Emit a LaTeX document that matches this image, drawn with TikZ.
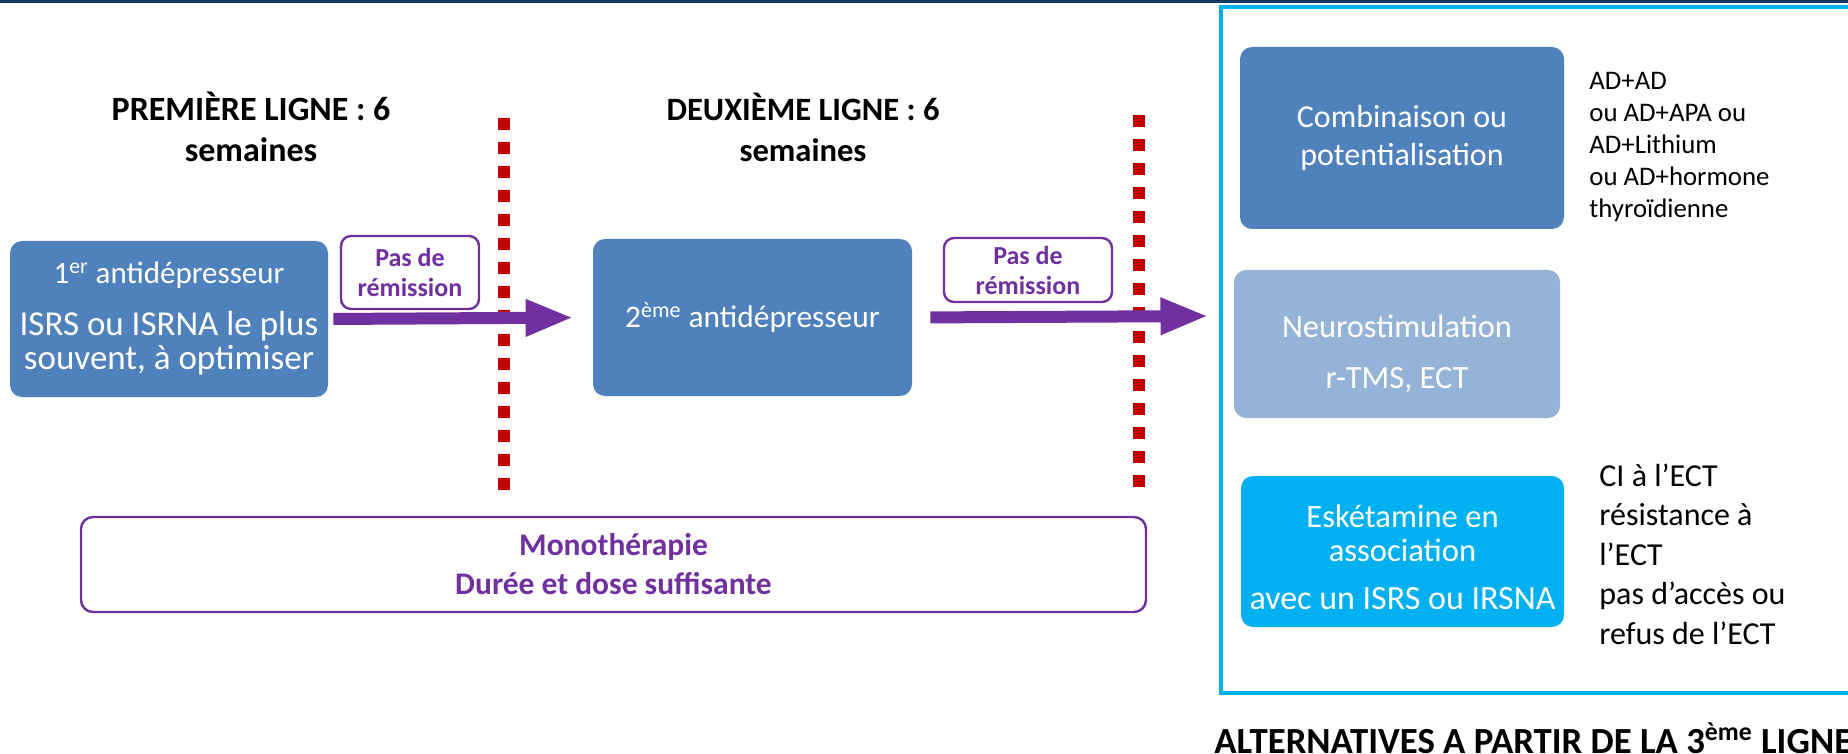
\documentclass[tikz,border=0pt]{standalone}
\usepackage{fontspec}
\setmainfont{Carlito}
\usetikzlibrary{arrows.meta,positioning}
\definecolor{navy}{HTML}{17375E}
\definecolor{boxblue}{HTML}{4F81BD}
\definecolor{lightblue}{HTML}{95B3D7}
\definecolor{cyanblue}{HTML}{00B0F0}
\definecolor{mauve}{HTML}{7030A0}
\definecolor{darkred}{HTML}{C00000}
\begin{document}
\begin{tikzpicture}[x=0.5pt,y=-0.5pt,
    bluebox/.style={rounded corners=6pt,align=center,text=white,inner sep=0pt,font=\fontsize{16}{19}\selectfont},
    remission/.style={draw=mauve,line width=1.2pt,rounded corners=5pt,align=center,text=mauve,inner sep=0pt,font=\bfseries\fontsize{13}{15}\selectfont},
    bigarrow/.style={draw=mauve,line width=6pt,-{Triangle[length=24pt,width=17pt]}},
    redline/.style={draw=darkred,line width=6pt,dash pattern=on 6pt off 6pt},
    title/.style={align=center,font=\bfseries\fontsize{17}{20.5}\selectfont},
    sidetext/.style={align=left,anchor=west,inner sep=0pt}]
      \useasboundingbox (0,0) rectangle (1848,754);
      \fill[navy] (0,0) rectangle (1848,3.5);
      \node[title] (line1) at (251,127) {PREMIÈRE LIGNE : 6\\semaines};
      \node[title,font=\bfseries\fontsize{16.3}{20.5}\selectfont] (line2) at (803,127) {DEUXIÈME LIGNE : 6\\semaines};
      \node[bluebox,fill=boxblue,minimum width=159pt,minimum height=78pt,font=\fontsize{17.5}{17}\selectfont] (first) at (169,319) {{\fontsize{15.5}{17}\selectfont 1\textsuperscript{er} antidépresseur}\\[9pt]ISRS ou ISRNA le plus\\souvent, à optimiser};
      \node[bluebox,fill=boxblue,minimum width=159.5pt,minimum height=78.5pt,font=\fontsize{15.7}{19}\selectfont] (second) at (752.5,317.5) {2\textsuperscript{ème} antidépresseur};
      \node[remission,minimum width=69pt,minimum height=36.5pt] (pas1) at (410,272.5) {Pas de\\rémission};
      \node[remission,minimum width=84pt,minimum height=32pt] (pas2) at (1028,270) {Pas de\\rémission};
      \draw[redline] (504,118) -- (504,491);
      \draw[redline] (1138.5,115) -- (1138.5,488);
      \draw[cyanblue,line width=2pt] (1220.5,7) rectangle (1870,693);
      \coordinate (altin) at (1220.5,316);
      \draw[bigarrow,shorten <=2.5pt,shorten >=9.5pt] (first.east) -- (second.west);
      \draw[bigarrow,shorten <=9pt,shorten >=6pt] (second.east) -- (altin);
      \node[bluebox,fill=boxblue,minimum width=162pt,minimum height=91pt] (combi) at (1402,138) {Combinaison ou\\potentialisation};
      \node[bluebox,fill=lightblue,minimum width=163pt,minimum height=74pt,font=\fontsize{16.2}{19.5}\selectfont] (neuro) at (1397,344) {\rule{0pt}{21pt}Neurostimulation\\[6pt]r-TMS, ECT};
      \node[bluebox,fill=cyanblue,minimum width=161.5pt,minimum height=75.5pt,font=\fontsize{16.3}{17}\selectfont] (eske) at (1402.5,551.5) {\rule{0pt}{17pt}Eskétamine en\\association\\[7pt]{\fontsize{17}{17}\selectfont avec un ISRS ou IRSNA}};
      \node[sidetext,font=\fontsize{13.4}{16}\selectfont] (combitxt) at (1589,147) {AD+AD\\ou AD+APA ou\\AD+Lithium\\ou AD+hormone\\thyroïdienne};
      \node[sidetext,font=\fontsize{16}{19.75}\selectfont] (esketxt) at (1599,554) {CI à l’ECT\\résistance à\\l’ECT\\pas d’accès ou\\refus de l’ECT};
      \node[draw=mauve,line width=1.2pt,rounded corners=6pt,minimum width=532.5pt,minimum height=47.5pt,align=center,text=mauve,font=\bfseries\fontsize{15.75}{19.5}\selectfont] (mono) at (613.5,564.5) {Monothérapie\\Durée et dose suffisante};
      \node[anchor=west,inner sep=0pt,font=\bfseries\fontsize{18.4}{20}\selectfont] (alt) at (1214,738) {ALTERNATIVES A PARTIR DE LA 3\textsuperscript{ème} LIGNE};
    \end{tikzpicture}
\end{document}
